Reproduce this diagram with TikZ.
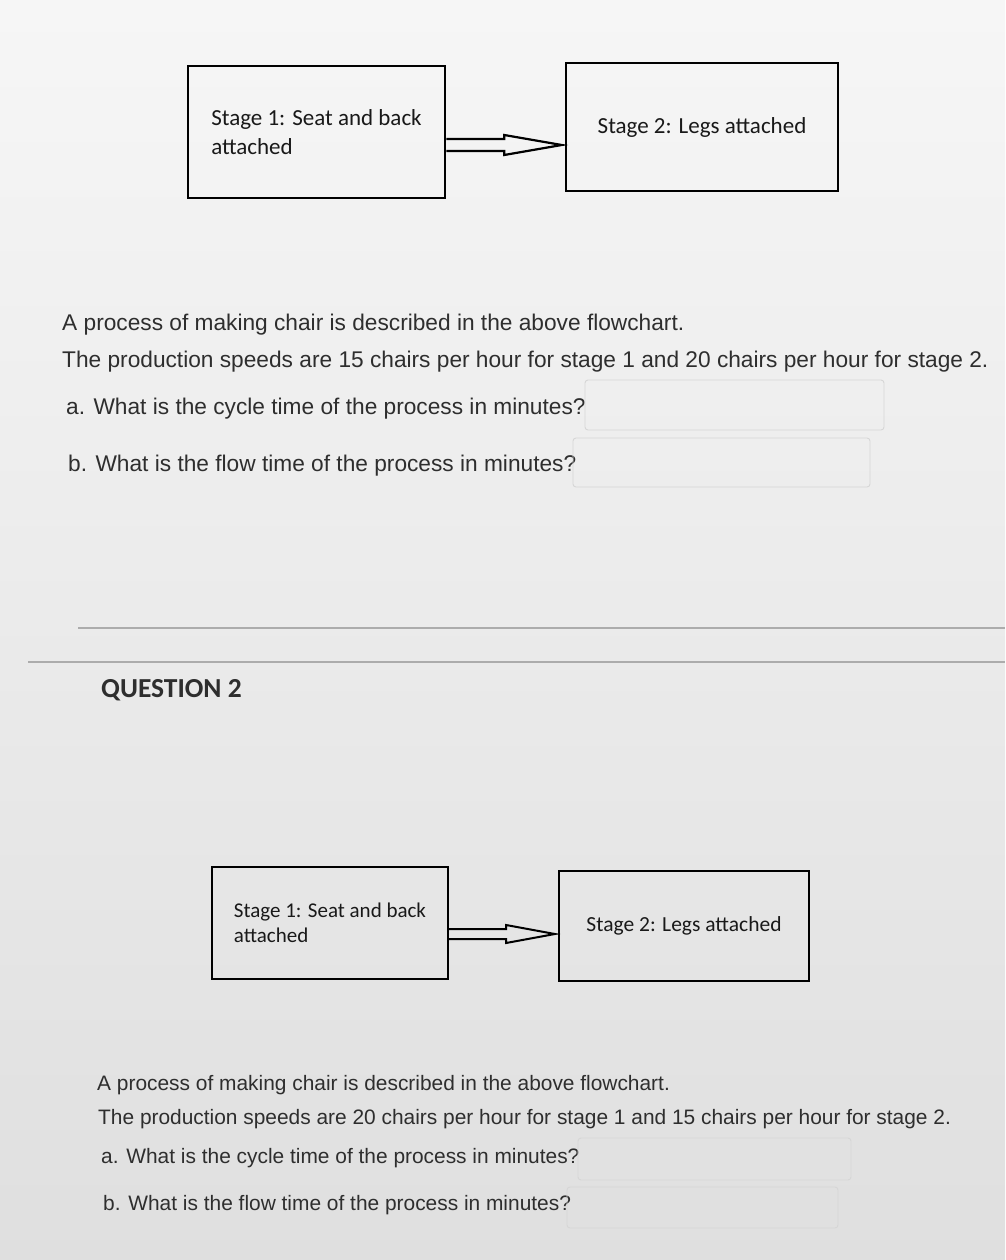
\documentclass[tikz,border=0pt]{standalone}
\usepackage{fontspec}
\setmainfont{Liberation Sans}
\newfontfamily\calibri{Carlito}
\usetikzlibrary{calc}
\tikzset{
  stagebox/.style={draw=black, line width=2.5pt, align=left, text=black!90},
  blockarrow/.style={draw=black, line width=2.2pt, line join=miter},
  qline/.style={anchor=base west, inner sep=0pt, text=black!82},
  ansbox/.style={draw=gray!32, rounded corners=3pt, line width=0.9pt},
  rule/.style={draw=gray!65, line width=1.3pt},
}
\begin{document}
\begin{tikzpicture}[x=1pt, y=-1pt]
\useasboundingbox (0,0) rectangle (1005,1260);
\fill[top color=gray!7, bottom color=gray!25] (0,0) rectangle (1005,1260);

% question 1 flowchart
\node[stagebox, minimum width=257pt, minimum height=132pt,
  font=\calibri\fontsize{23}{29}\selectfont] (s1) at (316.5,132)
  {Stage 1: Seat and back\\attached};
\node[stagebox, minimum width=272pt, minimum height=128pt,
  font=\calibri\fontsize{23}{29}\selectfont] (s2) at (702,127)
  {Stage 2: Legs attached};
\coordinate (a1) at ($(s1.east)+(0,13)$);
\draw[blockarrow] ($(a1)+(0,-6)$) -- ++(58,0) -- ++(0,-4)
  -- ($(a1 -| s2.west)+(-3,0)$) -- ($(a1)+(58,10)$) -- ++(0,-4)
  -- ($(a1)+(0,6)$);

% question 1 text
\begin{scope}[every node/.style={qline, font=\fontsize{22.7}{27}\selectfont}]
\node (q1intro) at (62,330) {A process of making chair is described in the above flowchart.};
\node (q1speeds) at (62,367) {The production speeds are 15 chairs per hour for stage 1 and 20 chairs per hour for stage 2.};
\node (q1a) at (66,414) {a. What is the cycle time of the process in minutes?};
\node (q1b) at (68,471) {b. What is the flow time of the process in minutes?};
\end{scope}
\draw[ansbox] (585,380) rectangle (884,430);
\draw[ansbox] (573,438) rectangle (870,487);

% separators
\draw[rule] (78,628) -- (1005,628);
\draw[rule] (28,662) -- (1005,662);
\node[qline, font=\calibri\bfseries\fontsize{27.5}{30}\selectfont] (q2title) at (101,697) {QUESTION 2};

% question 2 flowchart
\node[stagebox, line width=2.2pt, minimum width=236pt, minimum height=112pt,
  font=\calibri\fontsize{21}{25}\selectfont] (b1) at (330,923)
  {Stage 1: Seat and back\\attached};
\node[stagebox, line width=2.2pt, minimum width=250pt, minimum height=110pt,
  font=\calibri\fontsize{21.5}{25}\selectfont] (b2) at (684,926)
  {Stage 2: Legs attached};
\coordinate (a2) at ($(b1.east)+(0,11)$);
\draw[blockarrow, line width=2pt] ($(a2)+(0,-5)$) -- ++(57,0) -- ++(0,-4)
  -- ($(a2 -| b2.west)+(-3,0)$) -- ($(a2)+(57,9)$) -- ++(0,-4)
  -- ($(a2)+(0,5)$);

% question 2 text
\begin{scope}[every node/.style={qline, font=\fontsize{20.9}{24}\selectfont}]
\node (q2intro) at (97,1090) {A process of making chair is described in the above flowchart.};
\node (q2speeds) at (98,1124) {The production speeds are 20 chairs per hour for stage 1 and 15 chairs per hour for stage 2.};
\node (q2a) at (101,1163) {a. What is the cycle time of the process in minutes?};
\node (q2b) at (103,1210) {b. What is the flow time of the process in minutes?};
\end{scope}
\draw[ansbox] (578,1138) rectangle (851,1180);
\draw[ansbox] (567,1187) rectangle (838,1228);
\end{tikzpicture}
\end{document}
